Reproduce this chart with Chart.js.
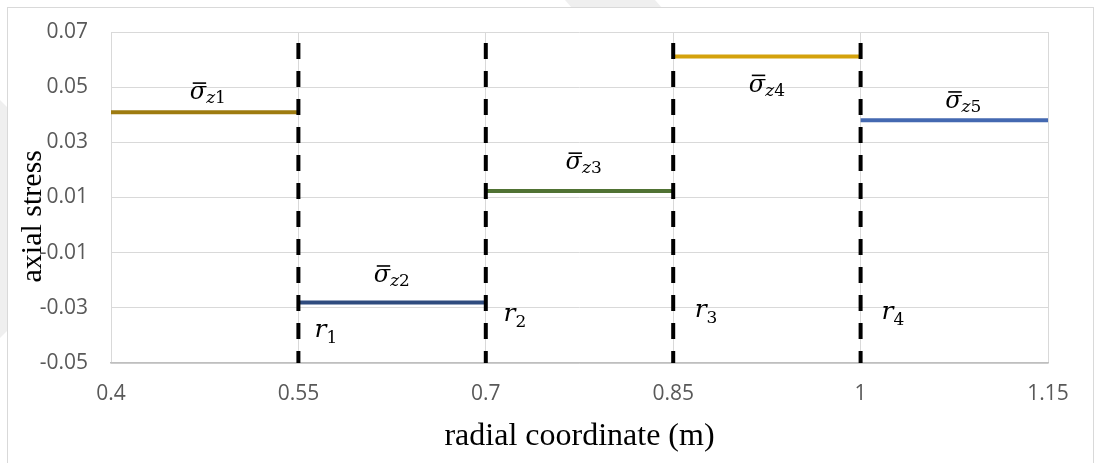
<!DOCTYPE html>
<html>
<head>
<meta charset="utf-8">
<script src="https://cdn.jsdelivr.net/npm/chart.js@4"></script>
<style>
html, body { margin: 0; padding: 0; background: #fff; }
#wrap { position: relative; width: 1094px; height: 463px; }
</style>
</head>
<body>
<div id="wrap"><canvas id="stressChart"></canvas></div>
<script>
const radialTicks = [0.4, 0.55, 0.7, 0.85, 1, 1.15];
const stressTicks = [-0.05, -0.03, -0.01, 0.01, 0.03, 0.05, 0.07];

// piecewise constant axial stress per layer
const layerStart = [0.4, 0.55, 0.7, 0.85, 1.0];
const layerEnd = [0.55, 0.7, 0.85, 1.0, 1.15];
const layerStress = [0.0409, -0.0281, 0.0124, 0.0611, 0.038];
const layerColors = ['#9e7b10', '#2f4b7e', '#507233', '#d4a20c', '#4469b1'];

// interface radii (dashed lines)
const radiusPos = [0.55, 0.7, 0.85, 1.0];
const radiusTop = 0.066;
const radiusBottom = -0.05;

// label anchors, data space
const sigmaX = [0.4775, 0.6248, 0.7783, 0.925, 1.0822];
const sigmaY = [0.0456, -0.0207, 0.0202, 0.0484, 0.0424];
const sigmaSub = ['1', '2', '3', '4', '5'];
const rX = [0.572, 0.7233, 0.8763, 1.0258];
const rY = [-0.0407, -0.0346, -0.0334, -0.0339];
const rSub = ['1', '2', '3', '4'];

const datasets = [];
layerStress.forEach((v, i) => {
    datasets.push({
        data: [{ x: layerStart[i], y: v }, { x: layerEnd[i], y: v }],
        borderColor: layerColors[i],
        borderWidth: 4,
        pointRadius: 0,
        showLine: true,
        order: 1
    });
});
radiusPos.forEach(r => {
    datasets.push({
        data: [{ x: r, y: radiusTop }, { x: r, y: radiusBottom }],
        borderColor: '#000',
        borderWidth: 4,
        borderDash: [16, 12],
        borderCapStyle: 'butt',
        pointRadius: 0,
        showLine: true,
        order: 0
    });
});

const frame = {
    id: 'frame',
    beforeDraw(chart) {
        const ctx = chart.ctx;
        ctx.save();
        ctx.fillStyle = '#fff';
        ctx.fillRect(0, 0, chart.width, chart.height);
        // faint watermark bits outside the chart box
        ctx.fillStyle = '#efefef';
        ctx.beginPath();
        ctx.moveTo(565, 0); ctx.lineTo(655, 0); ctx.lineTo(662, 8); ctx.lineTo(572, 8);
        ctx.fill();
        ctx.beginPath();
        ctx.moveTo(0, 100); ctx.lineTo(8, 108); ctx.lineTo(8, 330); ctx.lineTo(0, 338);
        ctx.fill();
        ctx.fillStyle = '#fff';
        ctx.fillRect(8, 8, 1086, 460);
        ctx.strokeStyle = '#d9d9d9';
        ctx.lineWidth = 1;
        ctx.strokeRect(7.5, 7.5, 1086, 500);
        ctx.restore();
    }
};

const labels = {
    id: 'labels',
    afterDatasetsDraw(chart) {
        const { ctx, scales: { x, y } } = chart;
        ctx.save();
        ctx.fillStyle = '#000';
        ctx.textBaseline = 'alphabetic';
        ctx.textAlign = 'left';
        sigmaX.forEach((v, i) => {
            const px = x.getPixelForValue(v);
            const py = y.getPixelForValue(sigmaY[i]);
            ctx.font = 'italic 24px "DejaVu Serif"';
            const wS = ctx.measureText('σ').width;
            ctx.font = 'italic 17px "DejaVu Serif"';
            const wZ = ctx.measureText('z').width;
            ctx.font = '17px "DejaVu Serif"';
            const wN = ctx.measureText(sigmaSub[i]).width;
            let cx = px - (wS + wZ + wN) / 2;
            ctx.font = 'italic 24px "DejaVu Serif"';
            ctx.fillText('σ', cx, py);
            ctx.fillRect(cx + 3, py - 17, wS - 3, 1.6);
            cx += wS;
            ctx.font = 'italic 17px "DejaVu Serif"';
            ctx.fillText('z', cx, py + 4);
            cx += wZ;
            ctx.font = '17px "DejaVu Serif"';
            ctx.fillText(sigmaSub[i], cx, py + 4);
        });
        rX.forEach((v, i) => {
            const px = x.getPixelForValue(v);
            const py = y.getPixelForValue(rY[i]);
            ctx.font = 'italic 25px "DejaVu Serif"';
            const wR = ctx.measureText('r').width;
            ctx.font = '17px "DejaVu Serif"';
            const wN = ctx.measureText(rSub[i]).width;
            let cx = px - (wR + wN) / 2;
            ctx.font = 'italic 25px "DejaVu Serif"';
            ctx.fillText('r', cx, py);
            cx += wR;
            ctx.font = '17px "DejaVu Serif"';
            ctx.fillText(rSub[i], cx, py + 6);
        });
        ctx.restore();
    }
};

const ctx = document.getElementById('stressChart').getContext('2d');

new Chart(ctx, {
    type: 'scatter',
    data: { datasets: datasets },
    options: {
        responsive: true,
        maintainAspectRatio: false,
        animation: false,
        layout: { padding: { top: 32, right: 46, left: 0, bottom: 0 } },
        plugins: {
            legend: { display: false },
            tooltip: { enabled: false }
        },
        elements: { line: { tension: 0 } },
        scales: {
            x: {
                type: 'linear',
                min: 0.4,
                max: 1.15,
                afterBuildTicks: s => { s.ticks = radialTicks.map(v => ({ value: v })); },
                afterFit: s => { s.height = 100; },
                grid: { color: '#d9d9d9', drawTicks: false },
                border: { color: '#bfbfbf', width: 1.5 },
                ticks: {
                    padding: 18,
                    color: '#595959',
                    font: { family: 'Open Sans', size: 21 },
                    maxRotation: 0,
                    callback: v => String(v)
                },
                title: {
                    display: true,
                    text: 'radial coordinate (m)',
                    color: '#000',
                    font: { family: 'Liberation Serif', size: 32 },
                    padding: { top: 0, bottom: 7 }
                }
            },
            y: {
                type: 'linear',
                min: -0.05,
                max: 0.07,
                afterBuildTicks: s => { s.ticks = stressTicks.map(v => ({ value: v })); },
                afterFit: s => {
                    s.width = 111;
                    s.paddingTop = 0;
                    s.paddingBottom = 0;
                },
                grid: { color: '#d9d9d9', drawTicks: false },
                border: { display: false },
                ticks: {
                    padding: 23,
                    color: '#595959',
                    font: { family: 'Open Sans', size: 21 },
                    callback: v => String(Math.round(v * 100) / 100)
                },
                title: {
                    display: true,
                    text: 'axial stress\u00a0\u00a0\u00a0\u00a0\u00a0',
                    color: '#000',
                    font: { family: 'Liberation Serif', size: 30 },
                    padding: { top: 15, bottom: 0 }
                }
            }
        }
    },
    plugins: [frame, labels]
});
</script>
</body>
</html>
